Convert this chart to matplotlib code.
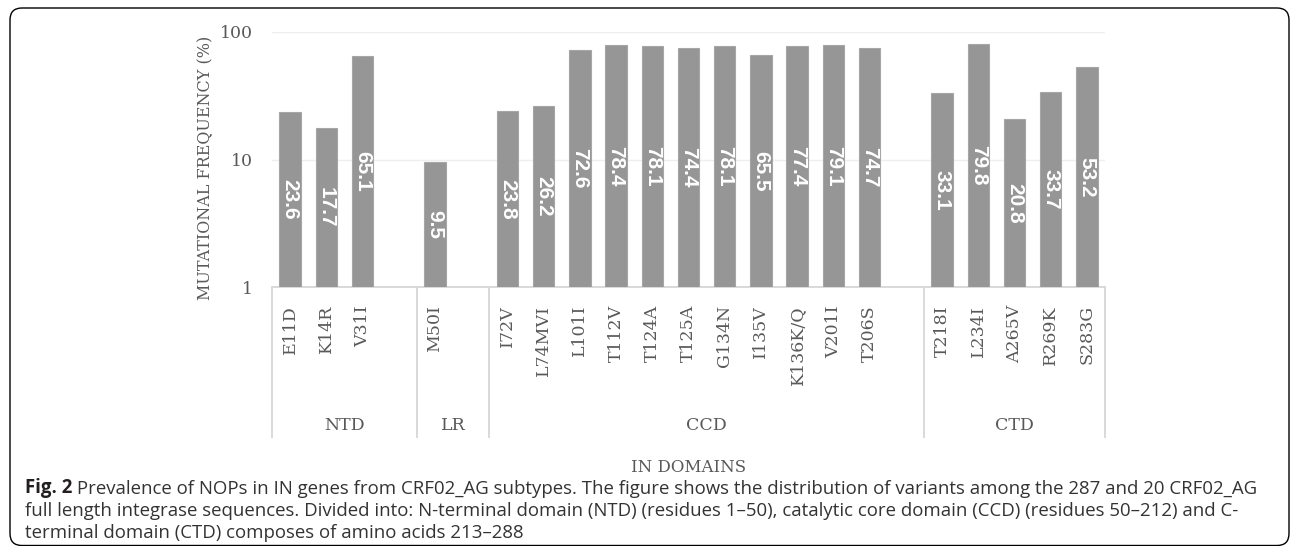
import numpy as np
import matplotlib
matplotlib.use("Agg")
import matplotlib.pyplot as plt
from matplotlib.patches import FancyBboxPatch

# data
ntd_labels = ["E11D", "K14R", "V31I"]
ntd_values = [23.6, 17.7, 65.1]
lr_labels = ["M50I"]
lr_values = [9.5]
ccd_labels = ["I72V", "L74MVI", "L101I", "T112V", "T124A", "T125A",
              "G134N", "I135V", "K136K/Q", "V201I", "T206S"]
ccd_values = [23.8, 26.2, 72.6, 78.4, 78.1, 74.4, 78.1, 65.5, 77.4, 79.1, 74.7]
ctd_labels = ["T218I", "L234I", "A265V", "R269K", "S283G"]
ctd_values = [33.1, 79.8, 20.8, 33.7, 53.2]
domain_names = ["NTD", "LR", "CCD", "CTD"]

groups = [(ntd_labels, ntd_values), (lr_labels, lr_values),
          (ccd_labels, ccd_values), (ctd_labels, ctd_values)]

# lay out slots: every domain but the last keeps one empty slot at its end
xs, vals, names, spans = [], [], [], []
pos = 0
for i, (labs, vs) in enumerate(groups):
    start = pos
    for lab, v in zip(labs, vs):
        xs.append(pos)
        vals.append(v)
        names.append(lab)
        pos += 1
    if i < len(groups) - 1:
        pos += 1
    spans.append((start - 0.5, pos - 0.5))
n_slots = pos

W, H = 1290, 546
fig = plt.figure(figsize=(W / 100, H / 100), dpi=100)
ax = fig.add_axes([272 / W, (H - 287) / H, 833 / W, 255 / H])

grey_txt = "#595959"
serif = "DejaVu Serif"

ax.bar(xs, vals, width=0.59, color="#969696", edgecolor="#a6a6a6", linewidth=0.8, zorder=3)
ax.set_yscale("log")
ax.set_ylim(1, 100)
ax.set_xlim(-0.5, n_slots - 0.5)

ax.set_yticks([1, 10, 100])
ax.set_yticklabels(["1", "10", "100"], fontfamily=serif, fontsize=12.5, color=grey_txt)
ax.yaxis.set_minor_locator(matplotlib.ticker.NullLocator())
ax.tick_params(axis="y", length=0, pad=14)
ax.set_xticks([])
ax.grid(axis="y", which="major", color="#efefef", linewidth=1, zorder=0)

for s in ["top", "right", "left"]:
    ax.spines[s].set_visible(False)
ax.spines["bottom"].set_color("#d9d9d9")
ax.spines["bottom"].set_linewidth(1.4)

ax.set_ylabel("MUTATIONAL FREQUENCY (%)", fontfamily=serif, fontsize=11.5, color=grey_txt)
ax.yaxis.set_label_coords(-0.07, 0.467)

# value labels inside bars, centred in log space
for x, v in zip(xs, vals):
    ax.text(x, np.sqrt(v), f"{v:.1f}", rotation=270, ha="center", va="center",
            color="white", fontweight="bold", fontsize=15,
            family=["Liberation Sans Narrow", "Liberation Sans"], zorder=4)

# category labels and domain grouping below the axis
trans = ax.get_xaxis_transform()
px = 1 / 255
for x, lab in zip(xs, names):
    ax.text(x, -18 * px, lab, rotation=90, ha="center", va="top", transform=trans,
            fontfamily=serif, fontsize=12.5, color=grey_txt, clip_on=False)

edges = sorted(set([s[0] for s in spans] + [s[1] for s in spans]))
for e in edges:
    ax.plot([e, e], [0, -150 * px], transform=trans, color="#d9d9d9",
            linewidth=1.4, clip_on=False)
for (a, b), name in zip(spans, domain_names):
    ax.text((a + b) / 2, -138 * px, name, ha="center", va="center", transform=trans,
            fontfamily=serif, fontsize=12.5, color=grey_txt)

ax.text(0.5, -181 * px, "IN DOMAINS", ha="center", va="center", transform=ax.transAxes,
        fontfamily=serif, fontsize=12, color=grey_txt)

# caption
cap_font = "Open Sans"
cap_size = 13.4
line1 = ("Prevalence of NOPs in IN genes from CRF02_AG subtypes. The figure shows the "
         "distribution of variants among the 287 and 20 CRF02_AG")
line2 = ("full length integrase sequences. Divided into: N-terminal domain (NTD) (residues 1\u201350), "
         "catalytic core domain (CCD) (residues 50\u2013212) and C-")
line3 = "terminal domain (CTD) composes of amino acids 213\u2013288"
t_fig = fig.text(25 / W, (H - 493) / H, "Fig. 2", fontfamily=cap_font, fontweight="bold",
                 fontsize=cap_size, color="#231f20", va="baseline")
ax.annotate(" " + line1, xy=(1, 0), xycoords=t_fig, va="bottom", ha="left",
            fontfamily=cap_font, fontsize=cap_size, color="#333333", annotation_clip=False)
fig.text(25 / W, (H - 516) / H, line2, fontfamily=cap_font, fontsize=cap_size,
         color="#333333", va="baseline")
fig.text(25 / W, (H - 538) / H, line3, fontfamily=cap_font, fontsize=cap_size,
         color="#333333", va="baseline")

# rounded frame around the whole figure
frame = FancyBboxPatch((0.10, 0.005), 12.79, 5.375,
                       boxstyle="round,pad=0,rounding_size=0.12",
                       transform=fig.dpi_scale_trans, fill=False,
                       edgecolor="black", linewidth=1.0)
fig.add_artist(frame)

fig.savefig("out.png", dpi=100)
